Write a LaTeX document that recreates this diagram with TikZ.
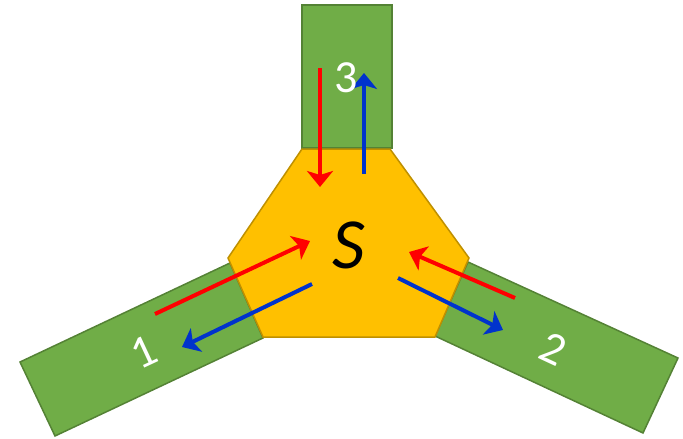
\documentclass[tikz,border=0pt]{standalone}
\usepackage{fontspec}
\setmainfont{Carlito}
\usetikzlibrary{arrows.meta}
\definecolor{grfill}{RGB}{112,173,71}
\definecolor{grline}{RGB}{84,130,53}
\definecolor{orfill}{RGB}{255,192,0}
\definecolor{orline}{RGB}{191,144,0}
\definecolor{myred}{RGB}{255,0,0}
\definecolor{myblue}{RGB}{0,51,204}
\tikzset{
  port/.style={fill=grfill,draw=grline,line width=1.5pt,line join=miter},
  core/.style={fill=orfill,draw=orline,line width=1.5pt,line join=miter},
  flow/.style={line width=4pt,-{Stealth[length=16pt,width=26pt,inset=4pt]}},
  inflow/.style={flow,draw=myred},
  outflow/.style={flow,draw=myblue},
  portlabel/.style={text=white,font=\fontsize{46}{50}\selectfont,inner sep=0pt}
}
\begin{document}
\begin{tikzpicture}[x=1pt,y=-1pt]
\useasboundingbox (0,0) rectangle (683,439);
% ports
\draw[port] (20,362) -- (230,263) -- (263,338) -- (55,436) -- cycle;
\draw[port] (468,262) -- (678,358) -- (643,433) -- (435,336) -- cycle;
\draw[port] (302,5) -- (392,5) -- (392,148) -- (302,148) -- cycle;
% core
\draw[core] (302,149) -- (390,149) -- (469,258) -- (435,337) -- (263,337) -- (228,258) -- cycle;
% coordinates for flows
\coordinate (r3s) at (320,68);  \coordinate (r3e) at (320,187);
\coordinate (b3s) at (364,174); \coordinate (b3e) at (364,73);
\coordinate (r1s) at (155,314); \coordinate (r1e) at (310,241);
\coordinate (b1s) at (312,284); \coordinate (b1e) at (182,347);
\coordinate (r2s) at (515,298); \coordinate (r2e) at (409,252);
\coordinate (b2s) at (398,278); \coordinate (b2e) at (503,330);
\draw[inflow] (r3s) -- (r3e);
\draw[outflow] (b3s) -- (b3e);
\draw[inflow] (r1s) -- (r1e);
\draw[outflow] (b1s) -- (b1e);
\draw[inflow] (r2s) -- (r2e);
\draw[outflow] (b2s) -- (b2e);
% labels
\node[portlabel] (l3) at (346,78) {3};
\node[portlabel,rotate=25] (l1) at (144,352) {1};
\node[portlabel,rotate=-25] (l2) at (553,349) {2};
\node[inner sep=0pt,font=\fontsize{72}{76}\selectfont\itshape] (s) at (349,245) {S};
\end{tikzpicture}
\end{document}
